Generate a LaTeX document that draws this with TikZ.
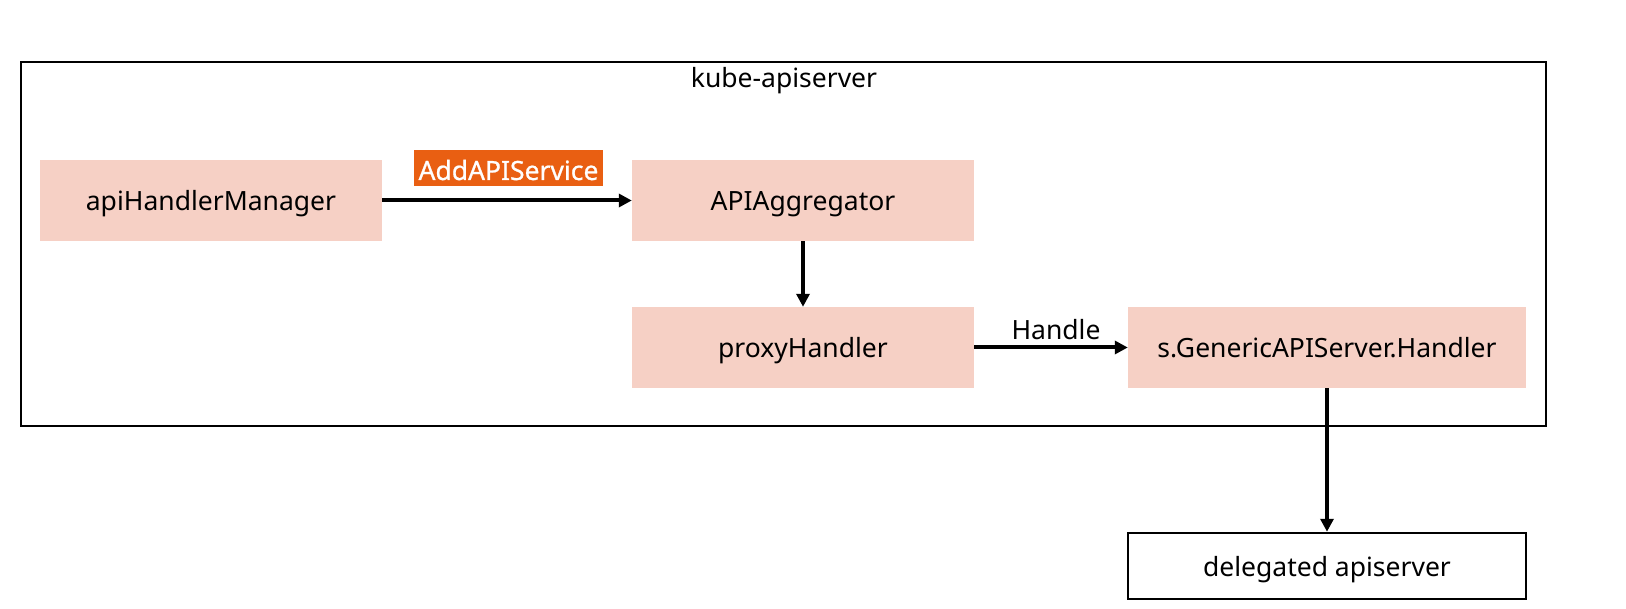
\documentclass[tikz,border=0pt]{standalone}
\usepackage{fontspec}
\setmainfont{Noto Sans}
\newfontfamily\tagfont{Noto Sans}[FakeBold=0.8]
\usetikzlibrary{arrows.meta}
\definecolor{boxpink}{HTML}{F6D0C5}
\definecolor{tagorange}{HTML}{E95F12}
\tikzset{
  pinkbox/.style={fill=boxpink, draw=none, inner sep=0pt, minimum width=342pt, minimum height=81pt, text height=20pt, text depth=0pt},
  conn/.style={line width=4pt, -{Triangle[length=13pt,width=13pt]}},
  tag/.style={fill=tagorange, text=white, inner sep=0pt, minimum width=189pt, minimum height=36pt, text height=24pt, text depth=0pt},
}
\begin{document}
\begin{tikzpicture}[x=1pt,y=-1pt, font=\fontsize{26.5}{30}\selectfont]
\useasboundingbox (0,0) rectangle (1626,609);
\node[draw, line width=2pt, minimum width=1525pt, minimum height=364pt, inner sep=0pt] (outer) at (783.5,244) {};
\node[anchor=base] (title) at (784,88) {kube-apiserver};
\node[pinkbox] (ahm) at (211,200.5) {apiHandlerManager};
\node[pinkbox] (agg) at (803,200.5) {APIAggregator};
\node[pinkbox] (proxy) at (803,347.5) {proxyHandler};
\node[pinkbox, minimum width=398pt] (gen) at (1327,347.5) {s.GenericAPIServer.Handler};
\node[draw, line width=2.5pt, minimum width=398pt, minimum height=66pt, inner sep=0pt, text height=20pt, text depth=0pt] (del) at (1327,566) {delegated apiserver};
\node[tag, font=\fontsize{26.5}{30}\tagfont] (addtag) at (508.5,168) {AddAPIService};
\node[anchor=base] (handle) at (1056,339.5) {Handle};
\draw[conn] (ahm.east) -- (agg.west);
\draw[conn] (agg.south) -- (proxy.north);
\draw[conn] (proxy.east) -- (gen.west);
\draw[conn] (gen.south) -- (del.north);
\end{tikzpicture}
\end{document}
